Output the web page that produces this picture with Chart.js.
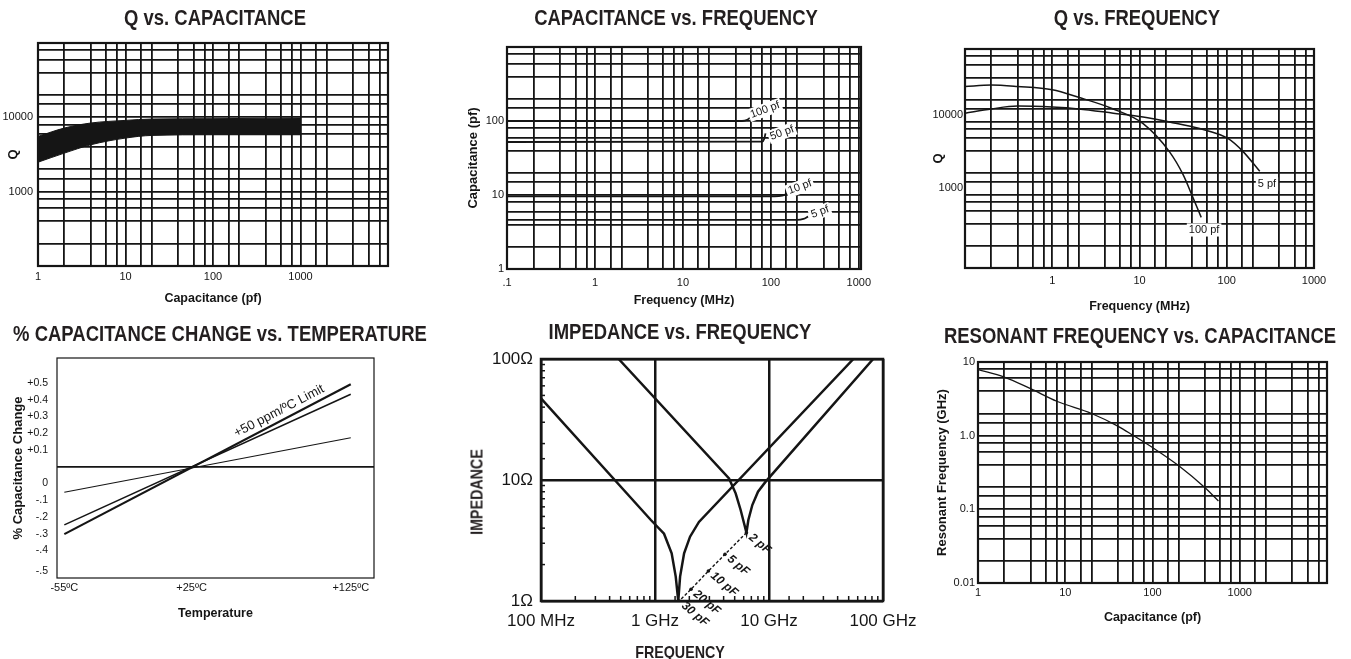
<!DOCTYPE html>
<html>
<head>
<meta charset="utf-8">
<title>Capacitor characteristics</title>
<script src="https://cdn.jsdelivr.net/npm/chart.js@4.4.1/dist/chart.umd.min.js"></script>
<style>
    html, body { margin: 0; padding: 0; background: #fff; }
    body { position: relative; width: 1351px; height: 659px; overflow: hidden; }
    canvas { position: absolute; }
    .heading {
        position: absolute;
        z-index: 2;
        font: bold 22px 'Liberation Sans', Arial, sans-serif;
        line-height: 1;
        color: #231f20;
        white-space: nowrap;
        transform: translate(-50%, -50%) scaleX(0.84);
    }
    .small { font-size: 17px; }
    .vertical { transform: translate(-50%, -50%) rotate(-90deg) scaleX(0.84); }
</style>
</head>
<body>
<canvas id="qcap"></canvas>
<canvas id="capfreq"></canvas>
<canvas id="qfreq"></canvas>
<canvas id="tempco"></canvas>
<canvas id="impedance"></canvas>
<canvas id="resfreq"></canvas>

<div class="heading" style="left:215px; top:18px">Q vs. CAPACITANCE</div>
<div class="heading" style="left:676px; top:18px">CAPACITANCE vs. FREQUENCY</div>
<div class="heading" style="left:1137px; top:18px">Q vs. FREQUENCY</div>
<div class="heading" style="left:220px; top:334px">% CAPACITANCE CHANGE vs. TEMPERATURE</div>
<div class="heading" style="left:680px; top:332px">IMPEDANCE vs. FREQUENCY</div>
<div class="heading" style="left:1140px; top:336px">RESONANT FREQUENCY vs. CAPACITANCE</div>
<div class="heading small vertical" style="left:477px; top:492px">IMPEDANCE</div>
<div class="heading small" style="left:680px; top:652px">FREQUENCY</div>

<script>
let ink = '#151515'
let sans = "'Liberation Sans', Arial, sans-serif"
let gridSteps = [1, 2, 4, 6, 8]

// Q vs. capacitance (band between two curves)
let qcCap = [1, 2, 4, 10, 20, 100, 1000]
let qcUpper = [5530, 7180, 8380, 9100, 9490, 9590, 9790]
let qcLower = [2490, 3300, 4270, 5260, 5710, 5830, 5830]
let qcXTicks = [1, 10, 100, 1000]
let qcXText = ['1', '10', '100', '1000']
let qcYTicks = [1000, 10000]
let qcYText = ['1000', '10000']

// capacitance vs. frequency
let cfFreq100 = [0.1, 47, 54, 61]
let cfCap100 = [100, 100, 104, 117]
let cfFreq50 = [0.1, 80, 84, 87]
let cfCap50 = [52, 52.5, 57, 68]
let cfFreq10 = [0.1, 110, 135, 155]
let cfCap10 = [9.6, 9.6, 9.8, 10.4]
let cfFreq5 = [0.1, 200, 235, 265]
let cfCap5 = [4.6, 4.6, 4.75, 5.1]
let cfNoteText = ['100 pf', '50 pf', '10 pf', '5 pf']
let cfNoteFreq = [86, 134, 214, 362]
let cfNoteCap = [141, 69, 12.8, 5.9]
let cfXTicks = [0.1, 1, 10, 100, 1000]
let cfXText = ['.1', '1', '10', '100', '1000']
let cfYTicks = [1, 10, 100]
let cfYText = ['1', '10', '100']

// Q vs. frequency
let qfFreq100 = [0.1, 0.2, 0.4, 1, 2, 5, 11, 22, 31.6, 41, 51]
let qfQ100 = [30600, 32000, 30600, 27600, 21800, 15100, 9500, 3930, 1900, 920, 494]
let qfFreq5 = [0.1, 0.2, 0.4, 1, 2, 5, 11, 22, 49, 103, 154, 239]
let qfQ5 = [13200, 15100, 16500, 16000, 15100, 13200, 11700, 10000, 8130, 5950, 3930, 2110]
let qfNoteText = ['5 pf', '100 pf']
let qfNoteFreq = [289, 55]
let qfNoteQ = [1416, 332]
let qfXTicks = [1, 10, 100, 1000]
let qfXText = ['1', '10', '100', '1000']
let qfYTicks = [1000, 10000]
let qfYText = ['1000', '10000']

// % capacitance change vs. temperature
let tcTemp = [-55, 125]
let tcLimit = [-0.402, 0.492]
let tcMid = [-0.347, 0.433]
let tcLow = [-0.152, 0.173]
let tcXTicks = [-55, 25, 125]
let tcXText = ['-55ºC', '+25ºC', '+125ºC']
let tcYTicks = [0.5, 0.4, 0.3, 0.2, 0.1, 0, -0.1, -0.2, -0.3, -0.4, -0.5, -0.625]
let tcYText = ['+0.5', '+0.4', '+0.3', '+0.2', '+0.1', '', '0', '-.1', '-.2', '-.3', '-.4', '-.5']

// impedance vs. frequency (GHz, ohms)
let imFreq30 = [0.1, 0.92, 1.2, 1.4, 1.52, 1.6, 1.66, 1.8, 2.03, 2.43, 55]
let imZ30 = [47.3, 4.67, 3.6, 2.48, 1.59, 1.0, 1.59, 2.48, 3.4, 4.5, 100]
let imFreq2 = [0.48, 4.46, 5.1, 5.64, 6.04, 6.34, 6.59, 7.14, 8.01, 9.35, 82]
let imZ2 = [100, 10.3, 7.76, 5.65, 4.39, 3.67, 4.67, 6.21, 8.01, 9.69, 100]
let locusCap = [2, 5, 10, 20, 30]
let locusFreq = [6.34, 4.11, 2.94, 2.07, 1.63]
let locusZ = [3.67, 2.43, 1.77, 1.25, 1.0]
let imXTicks = [0.1, 1, 10, 100]
let imXText = ['100 MHz', '1 GHz', '10 GHz', '100 GHz']
let imYTicks = [1, 10, 100]
let imYText = ['1Ω', '10Ω', '100Ω']

// resonant frequency vs. capacitance
let rfCap = [1, 2, 4, 8, 20, 40, 60, 100, 200, 400, 570]
let rfFreq = [7.87, 6.25, 4.34, 2.93, 2.0, 1.35, 1.01, 0.69, 0.39, 0.196, 0.13]
let rfXTicks = [1, 10, 100, 1000]
let rfXText = ['1', '10', '100', '1000']
let rfYTicks = [0.01, 0.1, 1, 10]
let rfYText = ['0.01', '0.1', '1.0', '10']

let points = (xs, ys) => xs.map((x, i) => ({ x: x, y: ys[i] }))

function same(a, b) {
    return Math.abs(a - b) <= 1e-9 * Math.max(1, Math.abs(a), Math.abs(b))
}

function tickText(values, texts) {
    return v => {
        let i = values.findIndex(t => same(t, v))
        return i < 0 ? '' : texts[i]
    }
}

function significand(v) {
    return Math.round(v / Math.pow(10, Math.floor(Math.log10(v) + 1e-9)))
}

// keep the 1-2-4-6-8 lines of the printed log paper
function logGrid(scale) {
    scale.ticks = scale.ticks.filter(t => gridSteps.includes(significand(t.value)) || same(t.value, scale.max))
}

let framePlugin = {
    id: 'frame',
    afterDatasetsDraw(chart, args, opts) {
        let a = chart.chartArea
        let ctx = chart.ctx
        ctx.save()
        ctx.strokeStyle = ink
        ctx.lineWidth = opts.width || 2
        ctx.strokeRect(a.left, a.top, a.right - a.left, a.bottom - a.top)
        ctx.restore()
    }
}

let notesPlugin = {
    id: 'notes',
    afterDatasetsDraw(chart, args, opts) {
        let ctx = chart.ctx
        let xs = chart.scales.x
        let ys = chart.scales.y
        ;(opts.items || []).forEach(n => {
            ctx.save()
            ctx.translate(xs.getPixelForValue(n.x), ys.getPixelForValue(n.y))
            ctx.rotate((opts.angle || 0) * Math.PI / 180)
            ctx.font = opts.font
            ctx.textAlign = opts.align || 'center'
            ctx.textBaseline = 'middle'
            let w = ctx.measureText(n.text).width
            let dx = opts.dx || 0
            if (opts.backdrop) {
                let left = ctx.textAlign === 'center' ? dx - w / 2 : dx
                ctx.fillStyle = '#fff'
                ctx.fillRect(left - 2, -opts.size * 0.6, w + 4, opts.size * 1.2)
            }
            ctx.fillStyle = ink
            ctx.fillText(n.text, dx, 0)
            ctx.restore()
        })
    }
}

// short inward marks for the minor decades of the impedance plot
let innerTicksPlugin = {
    id: 'innerTicks',
    afterDatasetsDraw(chart) {
        let a = chart.chartArea
        let ctx = chart.ctx
        ctx.save()
        ctx.strokeStyle = ink
        ctx.lineWidth = 1.5
        chart.scales.y.ticks.forEach(t => {
            if (significand(t.value) === 1) return
            let y = chart.scales.y.getPixelForValue(t.value)
            ctx.beginPath()
            ctx.moveTo(a.left, y)
            ctx.lineTo(a.left + 4, y)
            ctx.stroke()
        })
        chart.scales.x.ticks.forEach(t => {
            if (significand(t.value) === 1) return
            let x = chart.scales.x.getPixelForValue(t.value)
            ctx.beginPath()
            ctx.moveTo(x, a.bottom)
            ctx.lineTo(x, a.bottom - 5)
            ctx.stroke()
        })
        ctx.restore()
    }
}

function makeChart(id, g, datasets, xo, yo, extra) {
    let [cl, ct, cw, ch] = g.box
    let [pl, pt, pr, pb] = g.plot
    let canvas = document.getElementById(id)
    canvas.width = cw
    canvas.height = ch
    canvas.style.left = cl + 'px'
    canvas.style.top = ct + 'px'

    let xHeight = xo.title ? g.xTitleY + xo.titleSize * 0.6 - pb : xo.height
    let yWidth = pl - cl

    let scale = (o, horizontal) => ({
        type: o.type || 'logarithmic',
        position: horizontal ? 'bottom' : 'left',
        min: o.min,
        max: o.max,
        afterBuildTicks: o.fixed ? s => { s.ticks = o.values.map(v => ({ value: v })) } : (o.allTicks ? undefined : logGrid),
        afterFit: s => {
            if (horizontal) {
                s.height = xHeight
                s.paddingLeft = 0
                s.paddingRight = 0
            } else {
                s.width = yWidth
                s.paddingTop = 0
                s.paddingBottom = 0
            }
        },
        grid: {
            display: o.grid !== false,
            color: o.gridColor || ink,
            lineWidth: o.gridWidth || 1.8,
            drawTicks: false
        },
        border: { display: false },
        ticks: {
            autoSkip: false,
            maxRotation: 0,
            minRotation: 0,
            padding: o.pad,
            labelOffset: o.labelOffset || 0,
            color: ink,
            font: o.font || { family: sans, size: 11 },
            callback: tickText(o.values, o.texts)
        },
        title: {
            display: !!o.title,
            text: o.title || '',
            color: ink,
            font: { family: sans, size: o.titleSize || 12, weight: 'bold' },
            padding: horizontal || !o.title ? { top: 0, bottom: 0 } : { top: g.yTitleX - cl - o.titleSize * 0.6, bottom: 0 }
        }
    })

    return new Chart(canvas, {
        type: 'line',
        data: { datasets: datasets },
        options: {
            responsive: false,
            animation: false,
            devicePixelRatio: 1,
            events: [],
            layout: { padding: { left: 0, top: pt - ct, right: cl + cw - pr, bottom: ct + ch - pb - xHeight } },
            elements: {
                point: { radius: 0 },
                line: { borderColor: ink, borderWidth: 1.5, tension: 0 }
            },
            scales: { x: scale(xo, true), y: scale(yo, false) },
            plugins: Object.assign({ legend: { display: false }, tooltip: { enabled: false } }, extra.options || {})
        },
        plugins: extra.plugins || [framePlugin]
    })
}

// Q vs. CAPACITANCE
makeChart('qcap',
    { box: [0, 0, 445, 320], plot: [38, 43, 388, 266], yTitleX: 13, xTitleY: 299 },
    [
        { data: points(qcCap, qcLower), borderWidth: 1, cubicInterpolationMode: 'monotone' },
        { data: points(qcCap, qcUpper), borderWidth: 1, cubicInterpolationMode: 'monotone', fill: '-1', backgroundColor: ink }
    ],
    { min: 1, max: 10000, values: qcXTicks, texts: qcXText, pad: 4.4, title: 'Capacitance (pf)', titleSize: 12.5 },
    { min: 100, max: 100000, values: qcYTicks, texts: qcYText, pad: 5, title: 'Q', titleSize: 13 },
    { options: { frame: { width: 2.2 } } }
)

// CAPACITANCE vs. FREQUENCY
makeChart('capfreq',
    { box: [450, 0, 445, 320], plot: [507, 47, 861, 269], yTitleX: 473, xTitleY: 301 },
    [
        { data: points(cfFreq100, cfCap100), borderWidth: 1.8, cubicInterpolationMode: 'monotone' },
        { data: points(cfFreq50, cfCap50), borderWidth: 1.8, cubicInterpolationMode: 'monotone' },
        { data: points(cfFreq10, cfCap10), borderWidth: 1.8, cubicInterpolationMode: 'monotone' },
        { data: points(cfFreq5, cfCap5), borderWidth: 1.8, cubicInterpolationMode: 'monotone' }
    ],
    { min: 0.1, max: 1060, values: cfXTicks, texts: cfXText, pad: 7, title: 'Frequency (MHz)', titleSize: 12.5 },
    { min: 1, max: 1000, values: cfYTicks, texts: cfYText, pad: 3, title: 'Capacitance (pf)', titleSize: 13 },
    {
        plugins: [framePlugin, notesPlugin],
        options: {
            frame: { width: 2.2 },
            notes: {
                font: '11px ' + sans, size: 11, angle: -20, backdrop: true,
                items: cfNoteText.map((t, i) => ({ text: t, x: cfNoteFreq[i], y: cfNoteCap[i] }))
            }
        }
    }
)

// Q vs. FREQUENCY
makeChart('qfreq',
    { box: [900, 0, 451, 320], plot: [965, 49, 1314, 268], yTitleX: 938, xTitleY: 307 },
    [
        { data: points(qfFreq100, qfQ100), borderWidth: 1.5, cubicInterpolationMode: 'monotone' },
        { data: points(qfFreq5, qfQ5), borderWidth: 1.5, cubicInterpolationMode: 'monotone' }
    ],
    { min: 0.1, max: 1000, values: qfXTicks, texts: qfXText, pad: 6.4, title: 'Frequency (MHz)', titleSize: 12.5 },
    { min: 100, max: 100000, values: qfYTicks, texts: qfYText, pad: 2, labelOffset: -7, title: 'Q', titleSize: 13 },
    {
        plugins: [framePlugin, notesPlugin],
        options: {
            frame: { width: 2.2 },
            notes: {
                font: '11px ' + sans, size: 11, backdrop: true,
                items: qfNoteText.map((t, i) => ({ text: t, x: qfNoteFreq[i], y: qfNoteQ[i] }))
            }
        }
    }
)

// % CAPACITANCE CHANGE vs. TEMPERATURE
makeChart('tempco',
    { box: [0, 320, 445, 339], plot: [57, 358, 374, 578], yTitleX: 18, xTitleY: 613.3 },
    [
        { data: points(tcTemp, tcLimit), borderWidth: 2.2 },
        { data: points(tcTemp, tcMid), borderWidth: 1.6 },
        { data: points(tcTemp, tcLow), borderWidth: 1.1 }
    ],
    { type: 'linear', min: -59.6, max: 139.6, fixed: true, values: tcXTicks, texts: tcXText, pad: 3.4, grid: false, title: 'Temperature', titleSize: 12.5 },
    {
        type: 'linear', min: -0.664, max: 0.649, fixed: true, values: tcYTicks, texts: tcYText, pad: 9,
        font: { family: sans, size: 10.5 }, gridWidth: 1.8,
        gridColor: c => same(c.tick.value, 0) ? ink : 'rgba(0,0,0,0)',
        title: '% Capacitance Change', titleSize: 13
    },
    {
        plugins: [framePlugin, notesPlugin],
        options: {
            frame: { width: 1.2 },
            notes: { font: '13px ' + sans, size: 13, angle: -27.5, items: [{ text: '+50 ppm/ºC Limit', x: 80, y: 0.332 }] }
        }
    }
)

// IMPEDANCE vs. FREQUENCY
makeChart('impedance',
    { box: [450, 320, 480, 339], plot: [541, 359, 883, 601] },
    [
        { data: points(imFreq30, imZ30), borderWidth: 2.5 },
        { data: points(imFreq2, imZ2), borderWidth: 2.5 },
        {
            data: points(locusFreq, locusZ), borderWidth: 1.4, borderDash: [3, 2],
            pointRadius: 1.8, pointBackgroundColor: ink, pointBorderWidth: 0
        }
    ],
    {
        min: 0.1, max: 100, allTicks: true, values: imXTicks, texts: imXText, pad: 10, height: 40,
        font: { family: sans, size: 17 }, gridWidth: 2.5,
        gridColor: c => significand(c.tick.value) === 1 ? ink : 'rgba(0,0,0,0)'
    },
    {
        min: 1, max: 100, allTicks: true, values: imYTicks, texts: imYText, pad: 8,
        font: { family: sans, size: 17 }, gridWidth: 2.5,
        gridColor: c => significand(c.tick.value) === 1 ? ink : 'rgba(0,0,0,0)'
    },
    {
        plugins: [framePlugin, innerTicksPlugin, notesPlugin],
        options: {
            frame: { width: 2.5 },
            notes: {
                font: 'italic bold 12px ' + sans, size: 12, angle: 40, align: 'left', dx: 5,
                items: locusCap.map((c, i) => ({ text: c + ' pF', x: locusFreq[i], y: locusZ[i] }))
            }
        }
    }
)

// RESONANT FREQUENCY vs. CAPACITANCE
makeChart('resfreq',
    { box: [905, 320, 446, 339], plot: [978, 362, 1327, 583], yTitleX: 942, xTitleY: 618 },
    [
        { data: points(rfCap, rfFreq), borderWidth: 1.3, cubicInterpolationMode: 'monotone' }
    ],
    { min: 1, max: 10000, values: rfXTicks, texts: rfXText, pad: 3.4, title: 'Capacitance (pf)', titleSize: 12.5 },
    { min: 0.01, max: 10, values: rfYTicks, texts: rfYText, pad: 3, title: 'Resonant Frequency (GHz)', titleSize: 13 },
    { options: { frame: { width: 2.2 } } }
)
</script>
</body>
</html>
